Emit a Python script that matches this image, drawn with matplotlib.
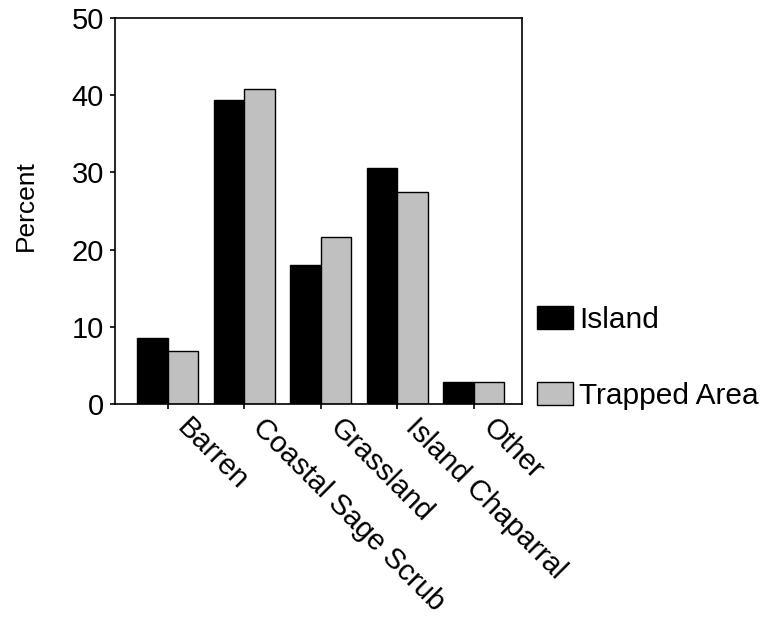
import matplotlib
matplotlib.use("Agg")
import matplotlib.pyplot as plt
from matplotlib.transforms import ScaledTranslation
import numpy as np

plt.rcParams['font.family'] = ['Liberation Sans', 'DejaVu Sans']

categories = ["Barren", "Coastal Sage Scrub", "Grassland", "Island Chaparral", "Other"]
island = [8.5, 39.4, 18.0, 30.6, 2.9]
trapped = [6.9, 40.8, 21.6, 27.5, 2.8]
yticks = [0, 10, 20, 30, 40, 50]

FS = 21
fig = plt.figure(figsize=(7.63, 6.22), dpi=100)
ax = fig.add_axes([115/763, 1 - 404/622, (522-115)/763, (404-18)/622])

x = np.arange(len(categories))
w = 0.4
ax.bar(x - w/2, island, w, color='black', edgecolor='black', linewidth=1, label='Island')
ax.bar(x + w/2, trapped, w, color='#c0c0c0', edgecolor='black', linewidth=1, label='Trapped Area')

ax.set_xlim(-0.69, 4.63)
ax.set_ylim(0, 50)
ax.set_yticks(yticks)
ax.set_yticklabels([str(t) for t in yticks], fontsize=FS)
ax.set_xticks(x)
ax.set_xticklabels([])
ax.tick_params(axis='both', direction='out', length=3.6, width=1.2, color='black', pad=4.3)
for s in ax.spines.values():
    s.set_linewidth(1.2)
    s.set_color('black')

off = ScaledTranslation(13/100, -19/100, fig.dpi_scale_trans)
for xi, cat in zip(x, categories):
    ax.text(xi, 0, cat, transform=ax.get_xaxis_transform() + off, fontsize=FS,
            rotation=-45, ha='left', va='center', rotation_mode='anchor')

fig.text(26/763, 1 - 206/622, 'Percent', fontsize=19, rotation=90,
         ha='center', va='center')

fig.legend(loc='upper left', bbox_to_anchor=(537/763, 1 - 306/622), frameon=False,
           fontsize=21.5, handlelength=1.2, handleheight=0.8, handletextpad=0.2,
           labelspacing=1.6, borderaxespad=0, borderpad=0)

fig.savefig('out.png', dpi=100)
